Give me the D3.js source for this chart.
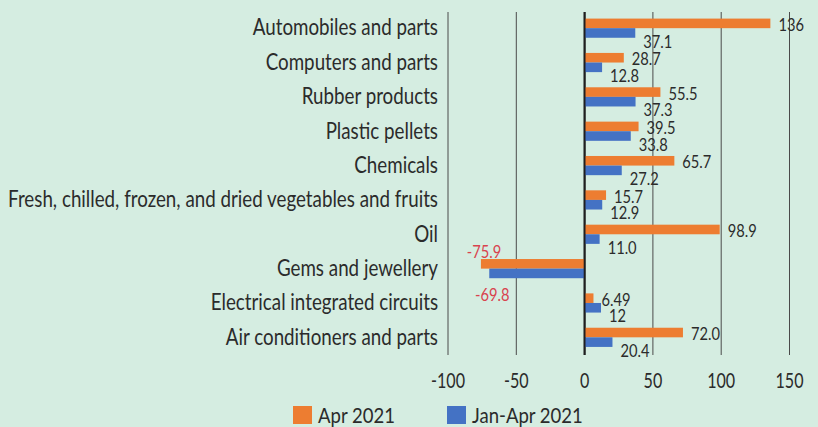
<!DOCTYPE html>
<html>
<head>
<meta charset="utf-8">
<script src="https://cdn.jsdelivr.net/npm/d3@7"></script>
<style>
  html, body { margin: 0; padding: 0; background: #d5ede1; }
  svg { display: block; }
  text { font-family: Lato, "Open Sans", "Liberation Sans", sans-serif; fill: #2b2b2b; }
</style>
</head>
<body>
<svg id="chart" width="818" height="427"></svg>
<script>
const categories = [
  "Automobiles and parts",
  "Computers and parts",
  "Rubber products",
  "Plastic pellets",
  "Chemicals",
  "Fresh, chilled, frozen, and dried vegetables and fruits",
  "Oil",
  "Gems and jewellery",
  "Electrical integrated circuits",
  "Air conditioners and parts"
];
const apr2021 = [136, 28.7, 55.5, 39.5, 65.7, 15.7, 98.9, -75.9, 6.49, 72.0];
const janApr2021 = [37.1, 12.8, 37.3, 33.8, 27.2, 12.9, 11.0, -69.8, 12, 20.4];
const aprLabels = ["136", "28.7", "55.5", "39.5", "65.7", "15.7", "98.9", "-75.9", "6.49", "72.0"];
const janAprLabels = ["37.1", "12.8", "37.3", "33.8", "27.2", "12.9", "11.0", "-69.8", "12", "20.4"];
const seriesNames = ["Apr 2021", "Jan-Apr 2021"];
const xTicks = [-100, -50, 0, 50, 100, 150];

const colors = { "Apr 2021": "#ed7d31", "Jan-Apr 2021": "#4472c4" };
const series = [
  { name: seriesNames[0], values: apr2021, labels: aprLabels },
  { name: seriesNames[1], values: janApr2021, labels: janAprLabels }
];

const svg = d3.select("#chart");

function measure(str, size) {
  const t = svg.append("text").style("font-size", size + "px").text(str);
  const w = t.node().getComputedTextLength();
  t.remove();
  return w;
}
// horizontal squeeze factors to mimic the condensed typeface
const CAT_SIZE = 23, VAL_SIZE = 18, TICK_SIZE = 21, LEG_SIZE = 22;
const sxCat = 430 / measure(categories[5], CAT_SIZE);
const sxVal = 29 / measure("37.1", VAL_SIZE);
const sxTick = 34 / measure("-100", TICK_SIZE);
const sxLeg = 77 / measure("Apr 2021", LEG_SIZE);

const x = d3.scaleLinear().domain([-100, 150]).range([448, 789.5]);
const y0 = d3.scaleBand().domain(categories).range([11, 354.5]).paddingInner(0).paddingOuter(0);
const y1 = d3.scaleBand().domain(seriesNames).range([0, y0.bandwidth()]).paddingInner(0).paddingOuter(0.79);

// gridlines
svg.append("g").selectAll("line").data(xTicks).join("line")
  .attr("x1", d => x(d)).attr("x2", d => x(d))
  .attr("y1", 12).attr("y2", 355)
  .attr("stroke", d => d === 0 ? "#1f1f1f" : "#4a4a4a")
  .attr("stroke-width", d => d === 0 ? 1.8 : 1);

// bars
series.forEach(s => {
  svg.append("g").selectAll("rect").data(categories).join("rect")
    .attr("x", (c, i) => x(Math.min(0, s.values[i])))
    .attr("width", (c, i) => Math.abs(x(s.values[i]) - x(0)))
    .attr("y", c => y0(c) + y1(s.name))
    .attr("height", y1.bandwidth())
    .attr("fill", colors[s.name]);
});

// zero line on top
svg.append("line")
  .attr("x1", x(0)).attr("x2", x(0)).attr("y1", 12).attr("y2", 355)
  .attr("stroke", "#1f1f1f").attr("stroke-width", 1.8);

// value labels
series.forEach((s, si) => {
  svg.append("g").selectAll("text").data(categories).join("text")
    .attr("transform", (c, i) => {
      const v = s.values[i];
      const cy = y0(c) + y1(s.name) + y1.bandwidth() / 2;
      const tx = v < 0 ? x(v) + 3 : x(v) + 8;
      const ty = v < 0 ? (si === 0 ? cy - 13 : cy + 20) : (si === 0 ? cy + 0.5 : cy + 7.5);
      return `translate(${tx},${ty}) scale(${sxVal},1)`;
    })
    .attr("text-anchor", (c, i) => s.values[i] < 0 ? "middle" : "start")
    .attr("dominant-baseline", "central")
    .style("font-size", VAL_SIZE + "px")
    .style("fill", (c, i) => s.values[i] < 0 ? "#d9434e" : "#2b2b2b")
    .text((c, i) => s.labels[i]);
});

// category labels
svg.append("g").selectAll("text").data(categories).join("text")
  .attr("transform", c => `translate(438,${y0(c) + y0.bandwidth() / 2 - 2}) scale(${sxCat},1)`)
  .attr("text-anchor", "end")
  .attr("dominant-baseline", "central")
  .style("font-size", CAT_SIZE + "px")
  .text(c => c);

// x tick labels
svg.append("g").selectAll("text").data(xTicks).join("text")
  .attr("transform", d => `translate(${x(d)},380) scale(${sxTick},1)`)
  .attr("text-anchor", "middle")
  .attr("dominant-baseline", "central")
  .style("font-size", TICK_SIZE + "px")
  .text(d => d);

// legend
const legendX = [293, 447];
const lg = svg.append("g");
seriesNames.forEach((n, i) => {
  lg.append("rect").attr("x", legendX[i]).attr("y", 406).attr("width", 19).attr("height", 18).attr("fill", colors[n]);
  lg.append("text")
    .attr("transform", `translate(${legendX[i] + 25},414) scale(${sxLeg},1)`)
    .attr("dominant-baseline", "central")
    .style("font-size", LEG_SIZE + "px").text(n);
});
</script>
</body>
</html>
